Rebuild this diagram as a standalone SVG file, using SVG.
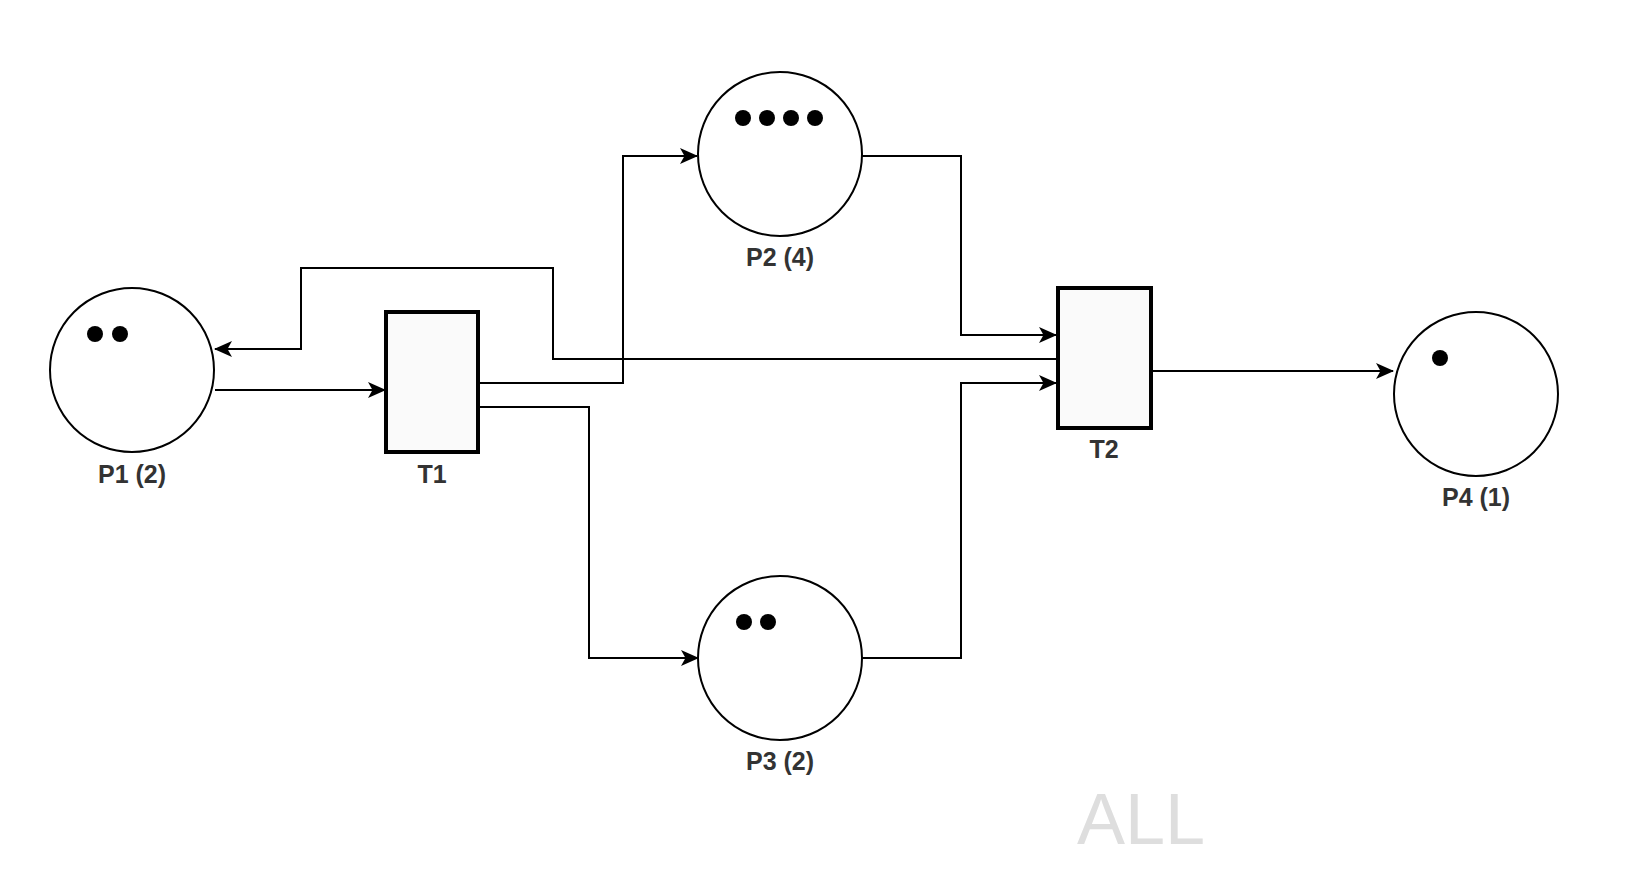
<svg xmlns="http://www.w3.org/2000/svg" width="1644" height="892" viewBox="0 0 1644 892">
<style>
.place{fill:#fff;stroke:#000;stroke-width:2}
.trans{fill:#fafafa;stroke:#000;stroke-width:4}
.tok{fill:#000}
.lbl{font-family:"Liberation Sans",Arial,sans-serif;font-weight:bold;font-size:25px;fill:#333;text-anchor:middle}
.edge{fill:none;stroke:#000;stroke-width:2}
</style>
<defs>
<marker id="arr" viewBox="0 0 18 16" refX="17" refY="8" markerWidth="18" markerHeight="16" markerUnits="userSpaceOnUse" orient="auto">
<path d="M0,0 L18,8 L0,16 L4.5,8 Z" fill="#000"/>
</marker>
</defs>
<rect width="1644" height="892" fill="#fff"/>
<g id="connectors">
<path class="edge" d="M215,390 H385" marker-end="url(#arr)"/>
<path class="edge" d="M478,383 H623 V156 H697" marker-end="url(#arr)"/>
<path class="edge" d="M478,407 H589 V658 H698" marker-end="url(#arr)"/>
<path class="edge" d="M862,156 H961 V335 H1056" marker-end="url(#arr)"/>
<path class="edge" d="M861,658 H961 V383 H1056" marker-end="url(#arr)"/>
<path class="edge" d="M1057,359 H553 V268 H301 V349 H215" marker-end="url(#arr)"/>
<path class="edge" d="M1151,371 H1393" marker-end="url(#arr)"/>
</g>
<g id="P1">
<circle class="place" cx="132" cy="370" r="82"/>
<circle class="tok" cx="95" cy="334" r="8"/>
<circle class="tok" cx="120" cy="334" r="8"/>
<text class="lbl" x="132" y="483">P1 (2)</text>
</g>
<g id="T1">
<rect class="trans" x="386" y="312" width="92" height="140"/>
<text class="lbl" x="432" y="483">T1</text>
</g>
<g id="P2">
<circle class="place" cx="780" cy="154" r="82"/>
<circle class="tok" cx="743" cy="118" r="8"/>
<circle class="tok" cx="767" cy="118" r="8"/>
<circle class="tok" cx="791" cy="118" r="8"/>
<circle class="tok" cx="815" cy="118" r="8"/>
<text class="lbl" x="780" y="266">P2 (4)</text>
</g>
<g id="P3">
<circle class="place" cx="780" cy="658" r="82"/>
<circle class="tok" cx="744" cy="622" r="8"/>
<circle class="tok" cx="768" cy="622" r="8"/>
<text class="lbl" x="780" y="770">P3 (2)</text>
</g>
<g id="T2">
<rect class="trans" x="1058" y="288" width="93" height="140"/>
<text class="lbl" x="1104" y="458">T2</text>
</g>
<g id="P4">
<circle class="place" cx="1476" cy="394" r="82"/>
<circle class="tok" cx="1440" cy="358" r="8"/>
<text class="lbl" x="1476" y="506">P4 (1)</text>
</g>
<text x="1141" y="844" font-family="'Liberation Sans',Arial,sans-serif" font-size="72" fill="#dedede" text-anchor="middle">ALL</text>
</svg>
